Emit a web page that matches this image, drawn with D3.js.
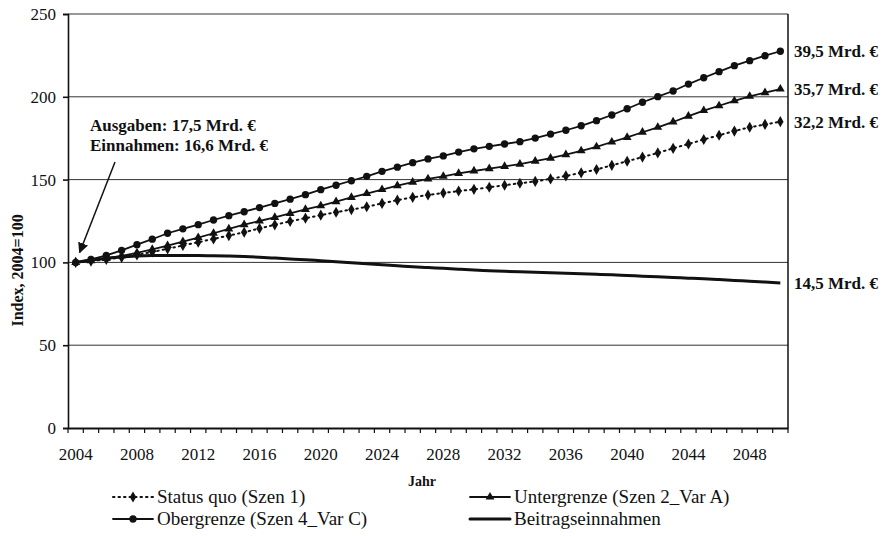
<!DOCTYPE html>
<html lang="de">
<head>
<meta charset="UTF-8" />
<title>Index, 2004=100</title>
<script src="https://d3js.org/d3.v7.min.js"></script>
<style>
  body { margin: 0; background: #fff; }
  text { font-family: "Liberation Serif", "Times New Roman", serif; fill: #111; }
</style>
</head>
<body>
<div id="chart"></div>
<script>
// years on the x axis
const years = d3.range(2004, 2051)
const labelYears = [2004, 2008, 2012, 2016, 2020, 2024, 2028, 2032, 2036, 2040, 2044, 2048]
const yTicks = [0, 50, 100, 150, 200, 250]

// series, index 2004 = 100
const statusQuo = [100, 100.8, 101.8, 103.0, 104.5, 106.3, 108.2, 110.2, 112.2, 114.2, 116.2, 118.2,
  120.5, 122.7, 124.8, 126.7, 128.5, 130.3, 131.9, 133.6, 135.6, 137.6, 139.3, 140.7, 141.9, 143.1,
  144.1, 145.4, 146.6, 147.8, 148.9, 150.4, 152.2, 154.1, 156.1, 158.6, 161.1, 163.6, 166.1, 168.9,
  171.5, 174.2, 176.8, 179.3, 181.6, 183.3, 185.0]
const untergrenze = [100, 101.0, 102.4, 104.0, 105.8, 107.9, 110.2, 112.6, 115.0, 117.6, 120.2, 122.8,
  125.0, 127.2, 129.6, 132.0, 134.2, 136.7, 139.2, 141.6, 144.0, 146.3, 148.5, 150.4, 152.0, 153.7,
  155.2, 156.6, 158.0, 159.3, 161.1, 163.0, 165.1, 167.4, 169.8, 172.7, 175.5, 178.6, 181.6, 184.8,
  188.3, 191.7, 194.6, 197.6, 200.3, 202.5, 204.7]
const obergrenze = [100, 101.8, 104.2, 107.3, 110.7, 114.0, 117.6, 120.3, 122.8, 125.6, 128.2, 130.6,
  133.1, 135.6, 138.2, 140.9, 143.9, 146.6, 149.3, 152.0, 155.0, 157.5, 160.2, 162.5, 164.3, 166.6,
  168.6, 170.1, 171.5, 172.9, 175.1, 177.5, 179.8, 182.5, 185.6, 189.0, 192.8, 196.7, 200.1, 203.5,
  207.7, 211.5, 215.2, 218.8, 221.8, 224.8, 227.5]
const beitrag = [100, 101.5, 102.5, 103.3, 103.8, 104.1, 104.2, 104.2, 104.1, 104.0, 103.8, 103.5,
  103.1, 102.6, 102.1, 101.6, 101.0, 100.4, 99.8, 99.2, 98.6, 98.0, 97.4, 96.9, 96.4, 95.9, 95.4,
  95.0, 94.6, 94.3, 94.0, 93.7, 93.4, 93.1, 92.8, 92.5, 92.1, 91.7, 91.3, 90.9, 90.5, 90.1, 89.6,
  89.1, 88.6, 88.1, 87.6]

const endLabels = ["39,5 Mrd. €", "35,7 Mrd. €", "32,2 Mrd. €", "14,5 Mrd. €"]
const legendNames = ["Status quo (Szen 1)", "Untergrenze (Szen 2_Var A)", "Obergrenze (Szen 4_Var C)", "Beitragseinnahmen"]
const noteLines = ["Ausgaben: 17,5 Mrd. €", "Einnahmen: 16,6 Mrd. €"]

const width = 886
const height = 536
const margin = { top: 14, right: 98, bottom: 108, left: 68 }

const svg = d3.select("#chart").append("svg")
  .attr("width", width)
  .attr("height", height)

const x = d3.scaleBand()
  .domain(years)
  .range([margin.left, width - margin.right])

const y = d3.scaleLinear()
  .domain([0, 250])
  .range([height - margin.bottom, margin.top])

const cx = d => x(d) + x.bandwidth() / 2

// gridlines
svg.append("g")
  .selectAll("line")
  .data(yTicks.filter(d => d > 0))
  .join("line")
  .attr("x1", margin.left)
  .attr("x2", width - margin.right)
  .attr("y1", d => y(d))
  .attr("y2", d => y(d))
  .attr("stroke", "#333")
  .attr("stroke-width", 1)

// right border
svg.append("line")
  .attr("x1", width - margin.right).attr("x2", width - margin.right)
  .attr("y1", margin.top).attr("y2", y(0))
  .attr("stroke", "#111").attr("stroke-width", 1.5)

// y axis
svg.append("g")
  .attr("transform", `translate(${margin.left},0)`)
  .call(d3.axisLeft(y).tickValues(yTicks).tickSize(5).tickPadding(7))
  .call(g => g.selectAll("path, line").attr("stroke", "#111").attr("stroke-width", 1.6))
  .call(g => g.selectAll("text").attr("font-size", 17).attr("font-family", "Liberation Serif"))

// x axis: labels under band centres, tick marks at band edges
svg.append("g")
  .attr("transform", `translate(0,${y(0)})`)
  .call(d3.axisBottom(x).tickValues(labelYears).tickSize(0).tickPadding(20).tickSizeOuter(0))
  .call(g => g.select(".domain").attr("stroke", "#111").attr("stroke-width", 2))
  .call(g => g.selectAll("text").attr("font-size", 17).attr("font-family", "Liberation Serif"))

svg.append("g")
  .selectAll("line")
  .data(years.concat([2051]))
  .join("line")
  .attr("x1", d => d === 2051 ? width - margin.right : x(d))
  .attr("x2", d => d === 2051 ? width - margin.right : x(d))
  .attr("y1", y(0))
  .attr("y2", y(0) + 5)
  .attr("stroke", "#111")
  .attr("stroke-width", 1.2)

// axis titles
svg.append("text")
  .attr("x", 422)
  .attr("y", 486)
  .attr("text-anchor", "middle")
  .attr("font-size", 14)
  .attr("font-weight", "bold")
  .text("Jahr")

svg.append("text")
  .attr("transform", `translate(23,${y(100) + 8}) rotate(-90)`)
  .attr("text-anchor", "middle")
  .attr("font-size", 16)
  .attr("font-weight", "bold")
  .text("Index, 2004=100")

const line = d3.line()
  .x((d, i) => cx(years[i]))
  .y(d => y(d))

const series = [
  { values: statusQuo, dash: "1.5,4", width: 2, symbol: d3.symbolDiamond, size: 36 },
  { values: untergrenze, dash: null, width: 1.8, symbol: d3.symbolTriangle, size: 34 },
  { values: obergrenze, dash: null, width: 1.8, symbol: d3.symbolCircle, size: 42 }
]

series.forEach(s => {
  svg.append("path")
    .datum(s.values)
    .attr("fill", "none")
    .attr("stroke", "#111")
    .attr("stroke-width", s.width)
    .attr("stroke-linecap", "round")
    .attr("stroke-dasharray", s.dash)
    .attr("d", line)

  svg.append("g")
    .selectAll("path")
    .data(s.values)
    .join("path")
    .attr("transform", (d, i) => `translate(${cx(years[i])},${y(d)})`)
    .attr("fill", "#111")
    .attr("d", d3.symbol().type(s.symbol).size(s.size))
})

svg.append("path")
  .datum(beitrag)
  .attr("fill", "none")
  .attr("stroke", "#111")
  .attr("stroke-width", 3)
  .attr("d", line.curve(d3.curveMonotoneX))

// end labels
const lastVals = [obergrenze, untergrenze, statusQuo, beitrag].map(v => v[v.length - 1])
svg.append("g")
  .selectAll("text")
  .data(endLabels)
  .join("text")
  .attr("x", width - margin.right + 6)
  .attr("y", (d, i) => y(lastVals[i]) + 6)
  .attr("font-size", 17)
  .attr("font-weight", "bold")
  .text(d => d)

// annotation with arrow
svg.append("defs").append("marker")
  .attr("id", "arrow")
  .attr("viewBox", "0 0 10 10")
  .attr("refX", 9).attr("refY", 5)
  .attr("markerWidth", 7).attr("markerHeight", 7)
  .attr("orient", "auto")
  .append("path")
  .attr("d", "M0,0L10,5L0,10z")
  .attr("fill", "#111")

svg.append("g")
  .selectAll("text")
  .data(noteLines)
  .join("text")
  .attr("x", 90)
  .attr("y", (d, i) => 131 + i * 20)
  .attr("font-size", 17)
  .attr("font-weight", "bold")
  .text(d => d)

svg.append("line")
  .attr("x1", 115).attr("y1", 162)
  .attr("x2", cx(2004) + 4).attr("y2", y(100) - 10)
  .attr("stroke", "#111")
  .attr("stroke-width", 1.5)
  .attr("marker-end", "url(#arrow)")

// legend
const legendPos = [[113, 497], [470, 497], [113, 519], [470, 519]]
const legendStyle = [series[0], series[1], series[2], { dash: null, width: 3, symbol: null }]
const legend = svg.append("g")
  .selectAll("g")
  .data(legendNames)
  .join("g")
  .attr("transform", (d, i) => `translate(${legendPos[i][0]},${legendPos[i][1]})`)

legend.append("line")
  .attr("x1", 0).attr("x2", 40)
  .attr("stroke", "#111")
  .attr("stroke-width", (d, i) => legendStyle[i].width)
  .attr("stroke-linecap", "round")
  .attr("stroke-dasharray", (d, i) => legendStyle[i].dash)

legend.filter((d, i) => legendStyle[i].symbol)
  .append("path")
  .attr("transform", "translate(20,0)")
  .attr("fill", "#111")
  .attr("d", (d, i) => d3.symbol().type(legendStyle[i].symbol).size(legendStyle[i].size)())

legend.append("text")
  .attr("x", 44)
  .attr("y", 6)
  .attr("font-size", 19)
  .text(d => d)
</script>
</body>
</html>
